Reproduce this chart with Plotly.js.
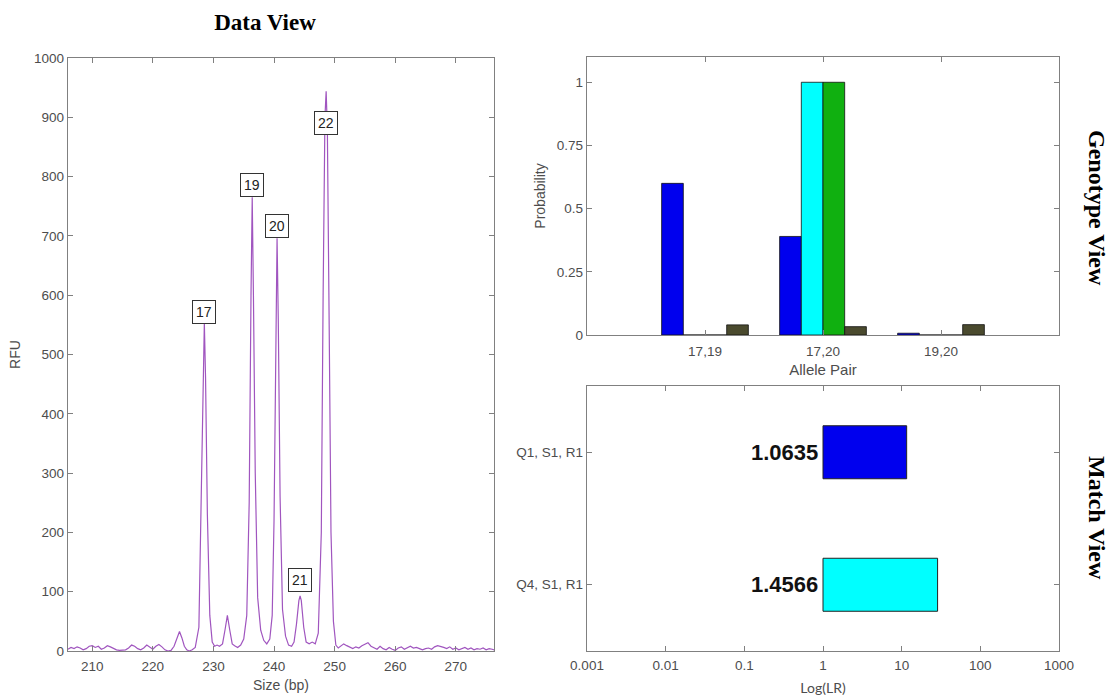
<!DOCTYPE html>
<html>
<head>
<meta charset="utf-8">
<script src="https://cdn.plot.ly/plotly-3.0.1.min.js"></script>
<style>html,body{margin:0;padding:0;background:#fff;}#chart{width:1113px;height:696px;}</style>
</head>
<body>
<div id="chart"></div>
<script>
// ---------- Data View (electropherogram) ----------
const sizeBp = [206.0,206.5,207.0,207.5,208.0,208.5,209.0,209.5,210.0,210.5,211.0,211.5,212.0,212.5,213.0,213.5,214.0,214.5,215.0,215.5,216.0,216.5,217.0,217.5,218.0,218.5,219.0,219.5,220.0,220.5,221.0,221.5,222.0,222.5,223.0,223.5,224.0,224.4,224.8,225.2,225.6,226.0,226.5,227.0,227.6,228.0,228.3,228.5,228.7,229.0,229.4,229.8,230.2,230.6,231.0,231.5,231.9,232.3,232.7,233.1,233.5,234.0,234.5,235.0,235.5,235.9,236.2,236.4,236.6,236.9,237.3,237.8,238.3,238.8,239.3,239.7,240.0,240.3,240.5,240.7,241.0,241.4,241.9,242.4,242.9,243.3,243.7,244.1,244.3,244.5,244.9,245.3,245.8,246.3,246.8,247.3,247.8,248.1,248.4,248.6,248.8,249.1,249.4,249.8,250.2,250.6,251.0,251.5,252.0,252.5,253.0,253.5,254.0,254.5,255.0,255.5,256.0,256.5,257.0,257.5,258.0,258.5,259.0,259.5,260.0,260.5,261.0,261.5,262.0,262.5,263.0,263.5,264.0,264.5,265.0,265.5,266.0,266.5,267.0,267.5,268.0,268.5,269.0,269.5,270.0,270.5,271.0,271.5,272.0,272.5,273.0,273.5,274.0,274.5,275.0,275.5,276.0,276.3];
const rfu = [3,6,4,7,5,2,4,8,9,6,8,3,5,9,7,4,2,1,1,2,5,10,8,4,2,5,10,7,3,8,11,7,2,0,1,8,22,33,22,8,2,0,2,6,40,250,470,553,460,230,60,15,8,10,8,12,35,60,35,12,9,6,10,20,60,250,600,765,600,300,90,35,18,12,20,60,220,560,696,560,260,70,25,10,8,15,45,85,93,85,40,15,12,15,12,30,200,600,900,944,880,550,200,50,10,5,8,12,9,6,4,7,5,9,11,14,8,5,3,8,4,2,6,3,1,5,7,3,6,8,5,6,4,2,4,5,3,7,9,8,6,4,7,3,5,2,4,6,3,5,2,4,3,5,2,4,3,2];
const alleleLabels = ['17','19','20','21','22'];
const alleleSize = [228.5,236.4,240.5,244.3,248.6];
const alleleLabelRfu = [572,786,717,120,890];
const sizeTicks = [210,220,230,240,250,260,270];
const rfuTicks = [0,100,200,300,400,500,600,700,800,900,1000];

// ---------- Genotype View ----------
const allelePairs = ['17,19','17,20','19,20'];
const probBlue  = [0.60,0.39,0.007];
const probCyan  = [0,1,0];
const probGreen = [0,1,0];
const probDark  = [0.04,0.033,0.041];
const probTicks = [0,0.25,0.5,0.75,1];
const probTickText = ['0','0.25','0.5','0.75','1'];

// ---------- Match View ----------
const matchLabels = ['Q1, S1, R1','Q4, S1, R1'];
const logLR = [1.0635,1.4566];
const matchColors = ['#0000ee','#00ffff'];
const lrTicks = [0.001,0.01,0.1,1,10,100,1000];
const lrTickText = ['0.001','0.01','0.1','1','10','100','1000'];

const W = 1113, H = 696;
const px = v => v / W;
const py = v => 1 - v / H;

const sans = 'Liberation Sans, Arial, sans-serif';
const serif = 'Liberation Serif, Times New Roman, serif';
const tickFont = {family:sans, size:13.5, color:'#4d4d4d'};
const titleFont = {family:sans, size:14, color:'#4d4d4d'};
const axisBase = {
  showline:true, linecolor:'#808080', linewidth:1.2, mirror:'ticks',
  ticks:'inside', ticklen:5, tickcolor:'#808080', tickwidth:1,
  showgrid:false, zeroline:false, tickfont:tickFont, automargin:false, fixedrange:true
};

const idx = [0,1,2];
const barLine = {color:'#111', width:0.8};
const traces = [
  {type:'scatter', mode:'lines', x:sizeBp, y:rfu, xaxis:'x', yaxis:'y',
   line:{color:'#a055bf', width:1.2}, hoverinfo:'skip'},
  {type:'bar', x:idx, y:probBlue, xaxis:'x2', yaxis:'y2', marker:{color:'#0000ee', line:barLine}},
  {type:'bar', x:idx, y:probCyan, xaxis:'x2', yaxis:'y2', marker:{color:'#00ffff', line:barLine}},
  {type:'bar', x:idx, y:probGreen, xaxis:'x2', yaxis:'y2', marker:{color:'#10b010', line:barLine}},
  {type:'bar', x:idx, y:probDark, xaxis:'x2', yaxis:'y2', marker:{color:'#4a4a2e', line:barLine}},
  {type:'bar', orientation:'h', y:[1,0], x:logLR.map(v => Math.pow(10,v) - 1), base:1, width:0.4,
   xaxis:'x3', yaxis:'y3', marker:{color:matchColors, line:{color:'#222', width:1}}}
];

const annotations = [];
alleleLabels.forEach((t,i) => {
  annotations.push({xref:'x', yref:'y', x:alleleSize[i], y:alleleLabelRfu[i], text:t, showarrow:false,
    font:{family:sans, size:14, color:'#222'},
    bgcolor:'#ffffff', bordercolor:'#333', borderwidth:1, borderpad:3, xanchor:'center', yanchor:'middle'});
});
logLR.forEach((v,i) => {
  annotations.push({xref:'x3', yref:'y3', x:0, y:1-i, text:'<b>'+v.toFixed(4)+'</b>', showarrow:false,
    xanchor:'right', yanchor:'middle', xshift:-3,
    font:{family:sans, size:22, color:'#111'}});
});
annotations.push({xref:'paper', yref:'paper', x:px(1097), y:py(208), text:'<b>Genotype View</b>', showarrow:false,
  textangle:90, font:{family:serif, size:24, color:'#000'}, xanchor:'center', yanchor:'middle'});
annotations.push({xref:'paper', yref:'paper', x:px(1097), y:py(518), text:'<b>Match View</b>', showarrow:false,
  textangle:90, font:{family:serif, size:24, color:'#000'}, xanchor:'center', yanchor:'middle'});

const layout = {
  width:W, height:H, margin:{l:0,r:0,t:0,b:0}, showlegend:false,
  paper_bgcolor:'#fff', plot_bgcolor:'#fff',
  barmode:'group', bargap:0.265, bargroupgap:0,
  title:{text:'<b>Data View</b>', x:px(265), xanchor:'center', y:py(22), yanchor:'middle', xref:'paper', yref:'paper',
    font:{family:serif, size:23, color:'#000'}},
  xaxis:Object.assign({}, axisBase, {domain:[px(68),px(494)], range:[206,276.3], tickvals:sizeTicks, ticklabelstandoff:3,
    title:{text:'Size (bp)', font:titleFont, standoff:6}, anchor:'y'}),
  yaxis:Object.assign({}, axisBase, {domain:[py(651),py(58)], range:[0,1000], tickvals:rfuTicks,
    title:{text:'RFU', font:titleFont, standoff:10}, anchor:'x'}),
  xaxis2:Object.assign({}, axisBase, {domain:[px(587),px(1059)], range:[-1,3], tickvals:idx, ticktext:allelePairs, ticklabelstandoff:4,
    title:{text:'Allele Pair', font:{family:sans, size:15, color:'#4d4d4d'}, standoff:6}, anchor:'y2'}),
  yaxis2:Object.assign({}, axisBase, {domain:[py(335),py(57)], range:[0,1.1], tickvals:probTicks, ticktext:probTickText,
    title:{text:'Probability', font:titleFont, standoff:8}, anchor:'x2'}),
  xaxis3:Object.assign({}, axisBase, {domain:[px(587),px(1059)], type:'log', range:[-3,3], tickvals:lrTicks, ticktext:lrTickText, ticklabelstandoff:2,
    title:{text:'Log(LR)', font:{family:'Lato, Open Sans, sans-serif', size:14, color:'#4d4d4d'}, standoff:10}, anchor:'y3'}),
  yaxis3:Object.assign({}, axisBase, {domain:[py(651),py(386)], range:[-0.5,1.5], tickvals:[1,0], ticktext:matchLabels, anchor:'x3'}),
  annotations:annotations
};

Plotly.newPlot('chart', traces, layout, {staticPlot:true, displayModeBar:false});
</script>
</body>
</html>
